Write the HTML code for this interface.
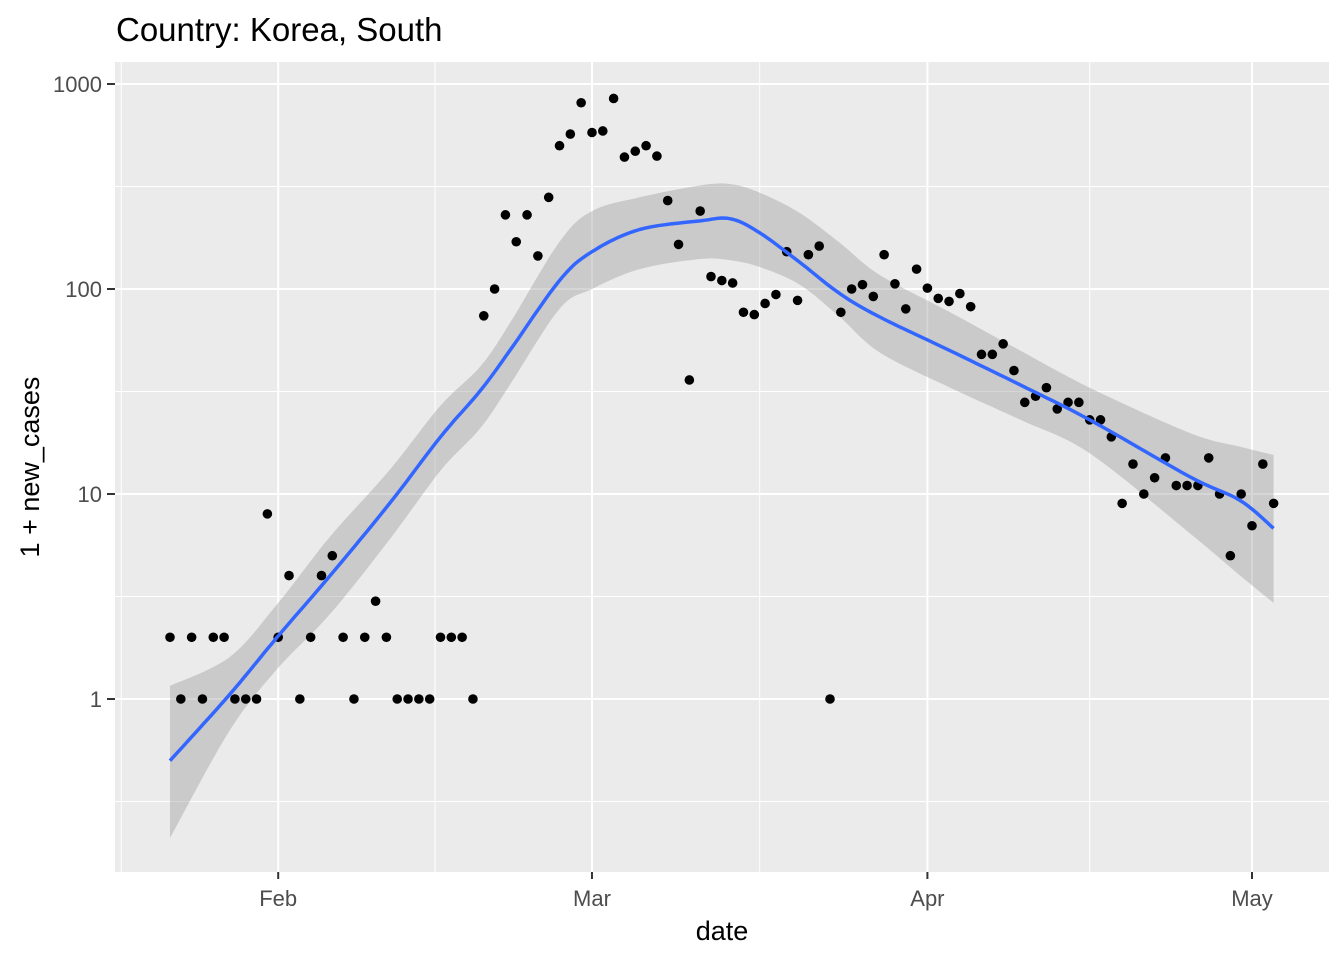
<!DOCTYPE html>
<html><head><meta charset="utf-8"><style>
body{margin:0;background:#fff;}
svg text{font-family:"Liberation Sans",Arial,sans-serif;}
</style></head><body>
<svg id="chart" width="1344" height="960" xmlns="http://www.w3.org/2000/svg">
<text x="116" y="41" font-size="33" fill="#000">Country: Korea, South</text>
<rect x="115" y="62" width="1214" height="810" fill="#ebebeb"/>
<g id="grid"></g>
<g id="ribbon"></g>
<g id="points"></g>
<g id="line"></g>
<g id="axes"></g>
<text x="722" y="940" font-size="27" text-anchor="middle" fill="#000">date</text>
<text transform="translate(39,467) rotate(-90)" font-size="27" text-anchor="middle" fill="#000">1 + new_cases</text>
</svg>
<script>
// day index from Jan 22, 2020
const cases = [2,1,2,1,2,2,1,1,1,8,2,4,1,2,4,5,2,1,2,3,2,1,1,1,1,2,2,2,1,74,100,230,170,230,145,280,500,570,810,580,590,850,440,470,500,445,270,165,36,240,115,110,107,77,75,85,94,152,88,147,162,1,77,100,105,92,147,106,80,125,101,90,87,95,82,48,48,54,40,28,30,33,26,28,28,23,23,19,9,14,10,12,15,11,11,11,15,10,5,10,7,14,9];
const smoothDays = [0,5.5,9.9,14.8,20.3,25,28.7,31.4,36,39,43.4,49,51.8,54.5,58.2,61.9,65.6,72.1,78.6,85,94.3,98.9,102];
const smoothFit = [0.5,1.05,2.0,4.0,9.0,19,32,50,110,152,195,215,220,188,135,95,73,50,34,23,12.1,9.3,6.8];
const bandHigh = [1.16,1.6,2.9,6.2,13.1,27,42,68,170,240,280,320,325,295,235,168,117,77,50,33,19.8,17,15.5];
const bandLow = [0.21,0.7,1.4,2.6,6.0,13,21,34,80,100,125,140,138,128,105,73,49,33,23,15.8,6.4,4.0,2.94];
const yTicks = [1,10,100,1000];
const yTickLabels = ["1","10","100","1000"];
const xTickDays = [10,39,70,100];
const xTickLabels = ["Feb","Mar","Apr","May"];

const NS="http://www.w3.org/2000/svg";
const X0=115,X1=1329,Y0=62,Y1=872;
function xs(d){return 170+d*10.82;}
function ys(v){return 699-Math.log10(v)*205;}
function mk(tag,attrs,parent){const e=document.createElementNS(NS,tag);for(const k in attrs)e.setAttribute(k,attrs[k]);parent.appendChild(e);return e;}
function smoothPts(days,vals){
  const p=days.map((d,i)=>[xs(d),ys(vals[i])]);const out=[];
  for(let i=0;i<p.length-1;i++){
    const a=p[Math.max(0,i-1)],b=p[i],c=p[i+1],d=p[Math.min(p.length-1,i+2)];
    for(let t=0;t<1;t+=0.1){const t2=t*t,t3=t2*t;
      const f=k=>0.5*((2*b[k])+(-a[k]+c[k])*t+(2*a[k]-5*b[k]+4*c[k]-d[k])*t2+(-a[k]+3*b[k]-3*c[k]+d[k])*t3);
      out.push([f(0),f(1)]);}
  }
  out.push(p[p.length-1]);return out;
}

const grid=document.getElementById('grid');
for(let i=-1;i<yTicks.length;i++){
  const v=Math.pow(10,Math.log10(yTicks[0])+i+0.5);
  const y=ys(v); if(y<Y0||y>Y1) continue;
  const l=mk('line',{x1:X0,x2:X1,y1:y,y2:y,stroke:'#fff','stroke-width':1},grid);
  
  
}
const xp=xTickDays.map(xs);
const mids=[xp[0]-(xp[1]-xp[0])/2];
for(let i=0;i<xp.length-1;i++) mids.push((xp[i]+xp[i+1])/2);
mids.forEach(x=>{ if(x<X0||x>X1) return;
  const l=mk('line',{x1:x,x2:x,y1:Y0,y2:Y1,stroke:'#fff','stroke-width':1},grid);
  
  
});
const axes=document.getElementById('axes');
yTicks.forEach((v,i)=>{
  const y=ys(v);
  const l=mk('line',{x1:X0,x2:X1,y1:y,y2:y,stroke:'#fff','stroke-width':2},grid);
  
  
  const t=mk('line',{x1:X0-8,x2:X0,y1:y,y2:y,stroke:'#333','stroke-width':2},axes);
  
  
  const tx=mk('text',{x:X0-13,y:y+8,'font-size':22,'text-anchor':'end',fill:'#4d4d4d'},axes);
  tx.textContent=yTickLabels[i];
  
  
});
xTickDays.forEach((d,i)=>{
  const x=xs(d);
  const l=mk('line',{x1:x,x2:x,y1:Y0,y2:Y1,stroke:'#fff','stroke-width':2},grid);
  
  
  const t=mk('line',{x1:x,x2:x,y1:Y1,y2:Y1+7,stroke:'#333','stroke-width':2},axes);
  
  
  const tx=mk('text',{x:x,y:Y1+34,'font-size':22,'text-anchor':'middle',fill:'#4d4d4d'},axes);
  tx.textContent=xTickLabels[i];
  
  
});
const up=smoothPts(smoothDays,bandHigh), lo=smoothPts(smoothDays,bandLow).reverse();
const rb=mk('polygon',{points:up.concat(lo).map(p=>p[0].toFixed(1)+','+p[1].toFixed(1)).join(' '),fill:'#999','fill-opacity':0.4},document.getElementById('ribbon'));


const pg=document.getElementById('points');
cases.forEach((v,i)=>{
  const c=mk('circle',{cx:xs(i),cy:ys(v),r:4.8,fill:'#000'},pg);
  
  
});
const lp=mk('polyline',{points:smoothPts(smoothDays,smoothFit).map(p=>p[0].toFixed(1)+','+p[1].toFixed(1)).join(' '),fill:'none',stroke:'#3366ff','stroke-width':3.5,'stroke-linejoin':'round'},document.getElementById('line'));


</script>
</body></html>
